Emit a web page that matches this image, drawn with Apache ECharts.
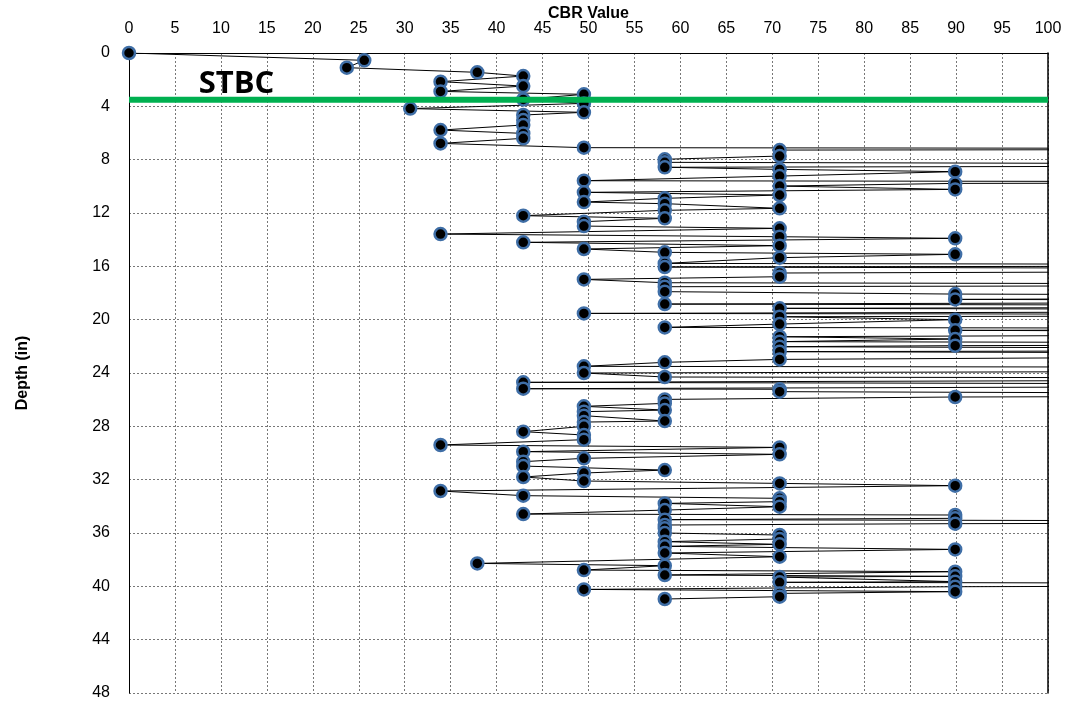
<!DOCTYPE html>
<html>
<head>
<meta charset="utf-8">
<script src="https://cdn.jsdelivr.net/npm/echarts@6/dist/echarts.min.js"></script>
<style>
html,body{margin:0;padding:0;background:#fff;}
#chart{width:1072px;height:704px;}
</style>
</head>
<body>
<div id="chart"></div>
<script>
// Depth (in) of each DCP reading, in order
const depthIn = [
  0.00, 0.55, 1.10, 1.45, 1.73, 2.15, 2.48, 2.88, 3.10, 3.48,
  3.78, 4.17, 4.45, 4.65, 5.03, 5.40, 5.78, 6.03, 6.40, 6.78,
  7.10, 7.20, 7.28, 7.73, 7.97, 8.20, 8.40, 8.57, 8.73, 8.90,
  9.23, 9.58, 9.70, 9.78, 9.98, 10.23, 10.45, 10.65, 10.90, 11.18,
  11.30, 11.65, 11.80, 12.20, 12.40, 12.65, 12.98, 13.15, 13.58, 13.78,
  13.90, 14.20, 14.45, 14.70, 14.95, 15.10, 15.35, 15.78, 15.92, 16.05,
  16.25, 16.40, 16.50, 16.78, 16.98, 17.23, 17.38, 17.53, 17.90, 18.08,
  18.25, 18.48, 18.62, 18.83, 19.00, 19.15, 19.32, 19.53, 19.65, 19.78,
  20.00, 20.33, 20.58, 20.70, 20.80, 21.00, 21.28, 21.45, 21.65, 21.80,
  21.95, 22.03, 22.25, 22.40, 22.60, 22.80, 22.98, 23.20, 23.50, 23.62,
  23.88, 24.00, 24.30, 24.42, 24.70, 24.90, 25.18, 25.22, 25.40, 25.65,
  25.80, 25.98, 26.28, 26.50, 26.78, 26.90, 27.20, 27.60, 27.68, 28.00,
  28.40, 28.65, 29.00, 29.40, 29.58, 29.90, 30.10, 30.40, 30.65, 30.98,
  31.28, 31.50, 31.80, 32.10, 32.28, 32.45, 32.85, 33.20, 33.40, 33.65,
  33.78, 34.03, 34.28, 34.58, 34.65, 34.90, 35.00, 35.18, 35.30, 35.40,
  35.65, 36.00, 36.15, 36.45, 36.65, 36.85, 37.00, 37.23, 37.50, 37.78,
  38.28, 38.45, 38.78, 38.90, 39.15, 39.25, 39.30, 39.65, 39.70, 39.85,
  40.03, 40.23, 40.40, 40.53, 40.78, 40.95
];
// CBR value of each reading (values above 100 run off the chart)
const cbrValue = [
  0, 25.6, 23.7, 37.9, 42.9, 33.9, 42.9, 33.9, 49.5, 42.9,
  49.5, 30.6, 49.5, 42.9, 42.9, 42.9, 33.9, 42.9, 42.9, 33.9,
  49.5, 180, 70.8, 70.8, 58.3, 58.3, 180, 58.3, 70.8, 89.9,
  70.8, 49.5, 180, 89.9, 70.8, 89.9, 49.5, 70.8, 58.3, 49.5,
  58.3, 70.8, 58.3, 42.9, 58.3, 49.5, 49.5, 70.8, 33.9, 70.8,
  89.9, 42.9, 70.8, 49.5, 58.3, 89.9, 70.8, 58.3, 180, 58.3,
  180, 120, 70.8, 70.8, 49.5, 58.3, 180, 58.3, 58.3, 89.9,
  180, 89.9, 180, 58.3, 180, 70.8, 180, 49.5, 180, 70.8,
  89.9, 70.8, 58.3, 180, 89.9, 180, 70.8, 89.9, 70.8, 180,
  89.9, 70.8, 180, 70.8, 180, 120, 70.8, 58.3, 49.5, 180,
  120, 49.5, 58.3, 180, 42.9, 180, 42.9, 70.8, 70.8, 180,
  89.9, 58.3, 58.3, 49.5, 58.3, 49.5, 49.5, 58.3, 49.5, 49.5,
  42.9, 49.5, 49.5, 33.9, 70.8, 42.9, 70.8, 49.5, 42.9, 42.9,
  58.3, 49.5, 42.9, 49.5, 70.8, 89.9, 33.9, 42.9, 70.8, 70.8,
  58.3, 70.8, 58.3, 42.9, 89.9, 89.9, 58.3, 180, 89.9, 58.3,
  58.3, 58.3, 70.8, 70.8, 58.3, 70.8, 58.3, 89.9, 58.3, 70.8,
  37.9, 58.3, 49.5, 89.9, 58.3, 89.9, 70.8, 89.9, 70.8, 180,
  89.9, 49.5, 89.9, 70.8, 70.8, 58.3
];
// Base course boundary and its label
const stbcDepth = 3.5;
const stbcLabel = 'STBC';
const stbcLabelAt = [11.7, 2.35];
const xTicks = {min: 0, max: 100, step: 5};
const yTicks = {min: 0, max: 48, step: 4};

const points = depthIn.map((d, i) => [cbrValue[i], d]);

const chart = echarts.init(document.getElementById('chart'), null, {renderer: 'canvas'});
const font = '"Liberation Sans", Arial, sans-serif';
const gridLine = {show: true, lineStyle: {color: '#777', type: [2, 2], width: 1}};
chart.setOption({
  animation: false,
  backgroundColor: '#fff',
  grid: {left: 129, right: 24, top: 53, bottom: 11, show: false, containLabel: false, outerBoundsMode: 'none'},
  xAxis: {
    type: 'value', position: 'top',
    min: xTicks.min, max: xTicks.max, interval: xTicks.step,
    name: 'CBR Value', nameLocation: 'middle', nameGap: 31, nameMoveOverlap: false,
    nameTextStyle: {fontFamily: font, fontSize: 16, fontWeight: 'bold', color: '#000'},
    axisLine: {show: true, lineStyle: {color: '#000', width: 1}},
    axisTick: {show: false},
    axisLabel: {fontFamily: font, fontSize: 16, color: '#000', margin: 16},
    splitLine: gridLine
  },
  yAxis: [{
    type: 'value', inverse: true,
    min: yTicks.min, max: yTicks.max, interval: yTicks.step,
    name: 'Depth (in)', nameLocation: 'middle', nameGap: 98, nameRotate: 90, nameMoveOverlap: false,
    nameTextStyle: {fontFamily: font, fontSize: 16, fontWeight: 'bold', color: '#000'},
    axisLine: {show: true, lineStyle: {color: '#000', width: 1}},
    axisTick: {show: false},
    axisLabel: {fontFamily: font, fontSize: 16, color: '#000', margin: 19},
    splitLine: gridLine
  }, {
    type: 'value', inverse: true, position: 'right',
    min: yTicks.min, max: yTicks.max, interval: yTicks.step,
    axisLine: {show: true, lineStyle: {color: '#000', width: 1.5}},
    axisTick: {show: false}, axisLabel: {show: false}, splitLine: {show: false}
  }],
  series: [
    {
      type: 'line', data: points, clip: true,
      symbol: 'circle', symbolSize: 12, showSymbol: true, showAllSymbol: true,
      lineStyle: {color: '#000', width: 1},
      itemStyle: {color: '#000', borderColor: '#3f6ea6', borderWidth: 2.5},
      z: 2
    },
    {
      type: 'line', data: [[xTicks.min, stbcDepth], [xTicks.max, stbcDepth]],
      symbol: 'none', lineStyle: {color: '#00b050', width: 6}, z: 5
    }
  ]
});
const labelPx = chart.convertToPixel({xAxisIndex: 0, yAxisIndex: 0}, stbcLabelAt);
chart.setOption({
  graphic: [{
    type: 'text', x: labelPx[0], y: labelPx[1], z: 10,
    style: {text: stbcLabel, fill: '#000', align: 'center', verticalAlign: 'middle',
      font: 'bold 31px "Open Sans", Lato, sans-serif'}
  }]
});
</script>
</body>
</html>
